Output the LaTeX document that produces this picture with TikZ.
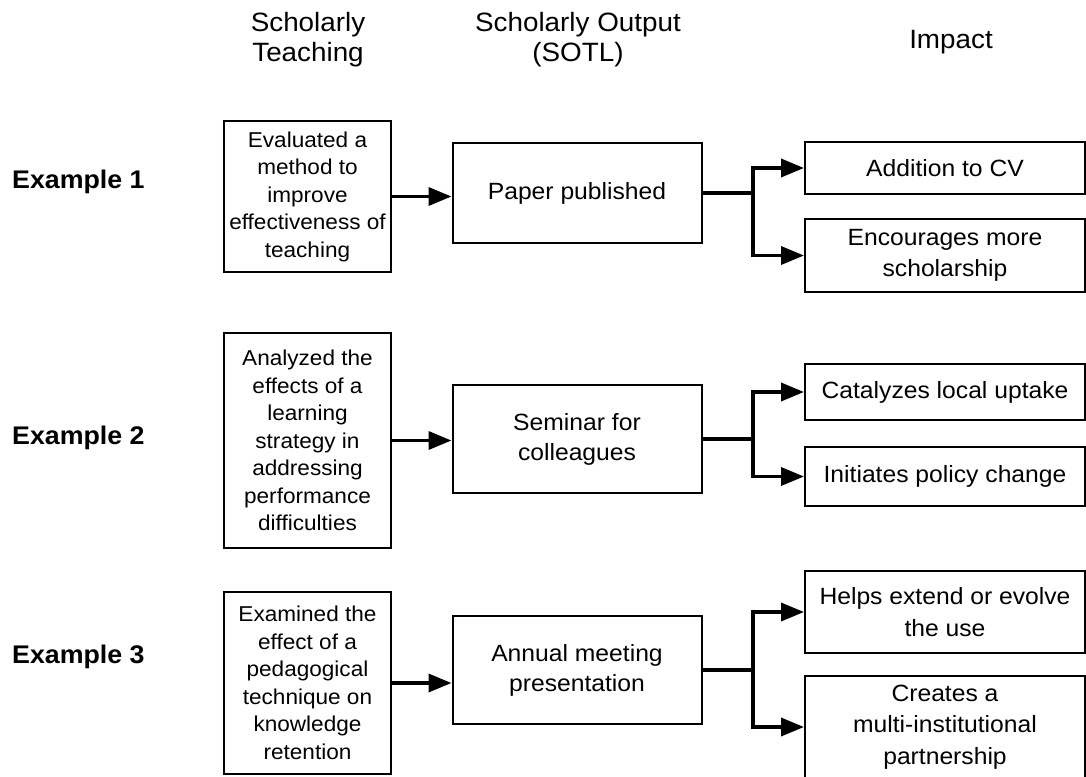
\documentclass[tikz,border=0pt]{standalone}
\usepackage{fontspec}
\setmainfont{Liberation Sans}[FakeStretch=1.05]
\usetikzlibrary{arrows.meta}
\begin{document}
\begin{tikzpicture}[x=1pt,y=-1pt,
 box/.style={draw=black, line width=2pt, inner sep=0pt, align=center},
 teach/.style={box, minimum width=167pt, font=\fontsize{21.5}{27.5}\selectfont},
 outp/.style={box, minimum width=249pt, font=\fontsize{23.5}{30}\selectfont},
 imp/.style={box, minimum width=280pt, font=\fontsize{23.5}{31.5}\selectfont},
 hdr/.style={align=center, font=\fontsize{26.5}{30}\selectfont},
 exlabel/.style={anchor=west, inner sep=0pt, font=\bfseries\fontsize{25.5}{30}\selectfont},
 conn/.style={line width=3.5pt, -{Triangle[length=23pt,width=18pt]}},
]
\useasboundingbox (0,0) rectangle (1086,776);
\fill[white] (0,0) rectangle (1086,776);

% headers
\node[hdr] (h1) at (308,40) {Scholarly\\Teaching};
\node[hdr] (h2) at (578,40) {Scholarly Output\\(SOTL)};
\node[hdr] (h3) at (951,42) {Impact};

% example labels
\node[exlabel] (e1) at (12,182) {Example 1};
\node[exlabel] (e2) at (12,438) {Example 2};
\node[exlabel] (e3) at (12,657) {Example 3};

% teaching boxes
\node[teach, minimum height=151pt] (t1) at (307.5,196.5) {Evaluated a\\method to\\improve\\effectiveness of\\teaching};
\node[teach, minimum height=215pt] (t2) at (307.5,440.5) {Analyzed the\\effects of a\\learning\\strategy in\\addressing\\performance\\difficulties};
\node[teach, minimum height=182pt] (t3) at (307.5,683) {Examined the\\effect of a\\pedagogical\\technique on\\knowledge\\retention};

% output boxes
\node[outp, minimum height=100pt] (o1) at (577,193) {Paper published};
\node[outp, minimum height=108pt] (o2) at (577,439) {Seminar for\\colleagues};
\node[outp, minimum height=108pt] (o3) at (577,670) {Annual meeting\\presentation};

% impact boxes
\node[imp, minimum height=52pt] (i1a) at (945,168) {Addition to CV};
\node[imp, minimum height=73pt] (i1b) at (945,255.5) {Encourages more\\scholarship};
\node[imp, minimum height=56pt] (i2a) at (945,392) {Catalyzes local uptake};
\node[imp, minimum height=59pt] (i2b) at (945,476.5) {Initiates policy change};
\node[imp, minimum height=82pt] (i3a) at (945,612) {Helps extend or evolve\\the use};
\node[imp, minimum height=103pt] (i3b) at (945,727) {Creates a\\multi-institutional\\partnership};

% teaching -> output
\draw[conn] (t1.east) -- (t1.east -| o1.west);
\draw[conn] (t2.east) -- (t2.east -| o2.west);
\draw[conn] (t3.east) -- (t3.east -| o3.west);

% branches
\coordinate (b1) at ([xshift=50.5pt]o1.east);
\coordinate (b2) at ([xshift=50.5pt]o2.east);
\coordinate (b3) at ([xshift=50.5pt]o3.east);
\draw[conn] (o1.east) -- (b1) |- (i1a.west);
\draw[conn] (b1) |- (i1b.west);
\draw[conn] (o2.east) -- (b2) |- (i2a.west);
\draw[conn] (b2) |- (i2b.west);
\draw[conn] (o3.east) -- (b3) |- (i3a.west);
\draw[conn] (b3) |- (i3b.west);
\end{tikzpicture}
\end{document}
